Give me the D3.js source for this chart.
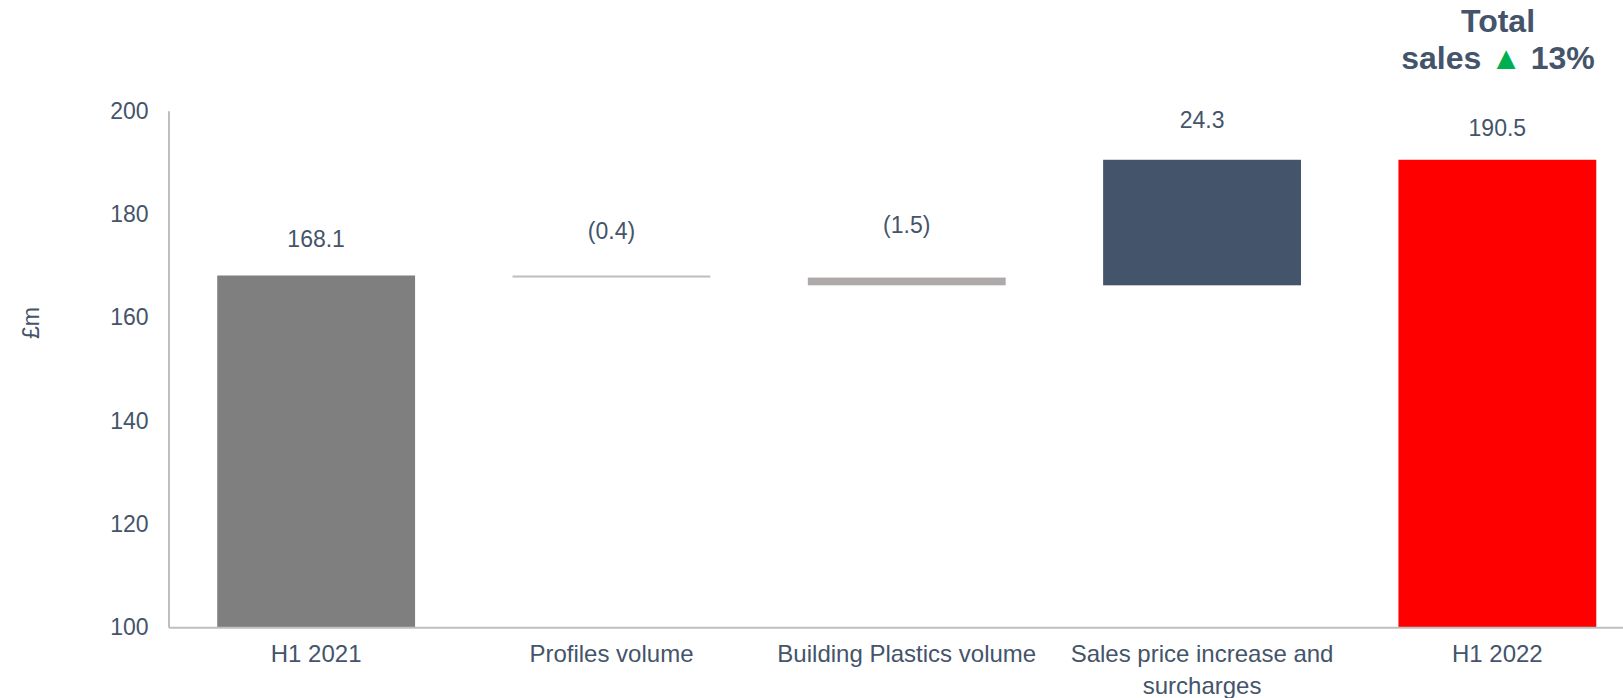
<!DOCTYPE html>
<html>
<head>
<meta charset="utf-8">
<script src="https://cdn.jsdelivr.net/npm/d3@7"></script>
<style>
  body { margin: 0; background: #fff; }
  svg text { font-family: "Liberation Sans", Arial, sans-serif; fill: #44546a; }
</style>
</head>
<body>
<div id="chart"></div>
<script>
// chart data
const categories = ['H1 2021', 'Profiles volume', 'Building Plastics volume', 'Sales price increase and surcharges', 'H1 2022'];
const changes = [168.1, -0.4, -1.5, 24.3, 190.5];
const isTotal = [true, false, false, false, true];
const labels = ['168.1', '(0.4)', '(1.5)', '24.3', '190.5'];
const yTicks = [100, 120, 140, 160, 180, 200];

const config = {
  width: 1623,
  height: 698,
  margin: {top: 110.7, right: -22, bottom: 70.7, left: 168.5},
  colors: ['#7f7f7f', '#bfbfbf', '#aeaaaa', '#44546a', '#ff0000'],
  // label distance above each bar, as Excel placed them
  labelOffsets: [37, 45, 53, 40, 32],
  fontSize: '23px',
  catFontSize: '24px'
};

const innerW = config.width - config.margin.left - config.margin.right;
const innerH = config.height - config.margin.top - config.margin.bottom;

const svg = d3.select('#chart').append('svg')
    .attr('width', config.width)
    .attr('height', config.height);

const chart = svg.append('g')
    .attr('transform', `translate(${config.margin.left},${config.margin.top})`);

// build waterfall steps
let running = 0;
const steps = categories.map((c, i) => {
  let start, end;
  if (isTotal[i]) {
    start = 100; end = changes[i]; running = changes[i];
  } else {
    start = running; end = running + changes[i]; running = end;
  }
  return {cat: c, start, end, label: labels[i], color: config.colors[i], off: config.labelOffsets[i]};
});

const x = d3.scaleBand()
    .domain(categories)
    .range([0, innerW])
    .paddingInner(0.33)
    .paddingOuter(0.165);

const y = d3.scaleLinear()
    .domain([100, 200])
    .range([innerH, 0]);

// y axis
const yAxis = chart.append('g')
    .call(d3.axisLeft(y).tickValues(yTicks).tickSize(0).tickPadding(20));
yAxis.select('.domain').attr('stroke', '#bfbfbf').attr('stroke-width', 2);
yAxis.selectAll('text').style('font-size', config.fontSize).attr('fill', '#44546a');

// bars
chart.selectAll('.bar')
    .data(steps)
  .join('rect')
    .attr('class', 'bar')
    .attr('x', d => x(d.cat))
    .attr('width', x.bandwidth())
    .attr('y', d => y(Math.max(d.start, d.end)))
    .attr('height', d => Math.max(1.5, Math.abs(y(d.start) - y(d.end))))
    .attr('fill', d => d.color);

// x axis
const xAxis = chart.append('g')
    .attr('transform', `translate(0,${innerH})`)
    .call(d3.axisBottom(x).tickSize(0).tickPadding(18));
xAxis.select('.domain').attr('stroke', '#bfbfbf').attr('stroke-width', 2);
xAxis.selectAll('text').style('font-size', config.catFontSize).attr('fill', '#44546a')
    .each(function(d) {
      if (d === 'Sales price increase and surcharges') {
        const t = d3.select(this);
        t.text(null);
        t.append('tspan').attr('x', 0).text('Sales price increase and');
        t.append('tspan').attr('x', 0).attr('dy', '1.3em').text('surcharges');
      }
    });

// value labels
chart.selectAll('.value-label')
    .data(steps)
  .join('text')
    .attr('class', 'value-label')
    .attr('text-anchor', 'middle')
    .attr('x', d => x(d.cat) + x.bandwidth() / 2)
    .attr('y', d => y(Math.max(d.start, d.end)) - d.off)
    .attr('dy', '0.35em')
    .style('font-size', config.fontSize)
    .text(d => d.label);

// y axis title
svg.append('text')
    .attr('transform', 'translate(31,323) rotate(-90)')
    .attr('text-anchor', 'middle')
    .attr('dy', '0.35em')
    .style('font-size', config.fontSize)
    .text('£m');

// headline
const head = svg.append('text')
    .attr('text-anchor', 'middle')
    .style('font-size', '32px')
    .style('font-weight', 'bold');
head.append('tspan').attr('x', 1498).attr('y', 32).text('Total');
const l2 = head.append('tspan').attr('x', 1498).attr('y', 69);
l2.append('tspan').text('sales ');
l2.append('tspan').style('fill', '#00b050').text('▲');
l2.append('tspan').text(' 13%');
</script>
</body>
</html>
